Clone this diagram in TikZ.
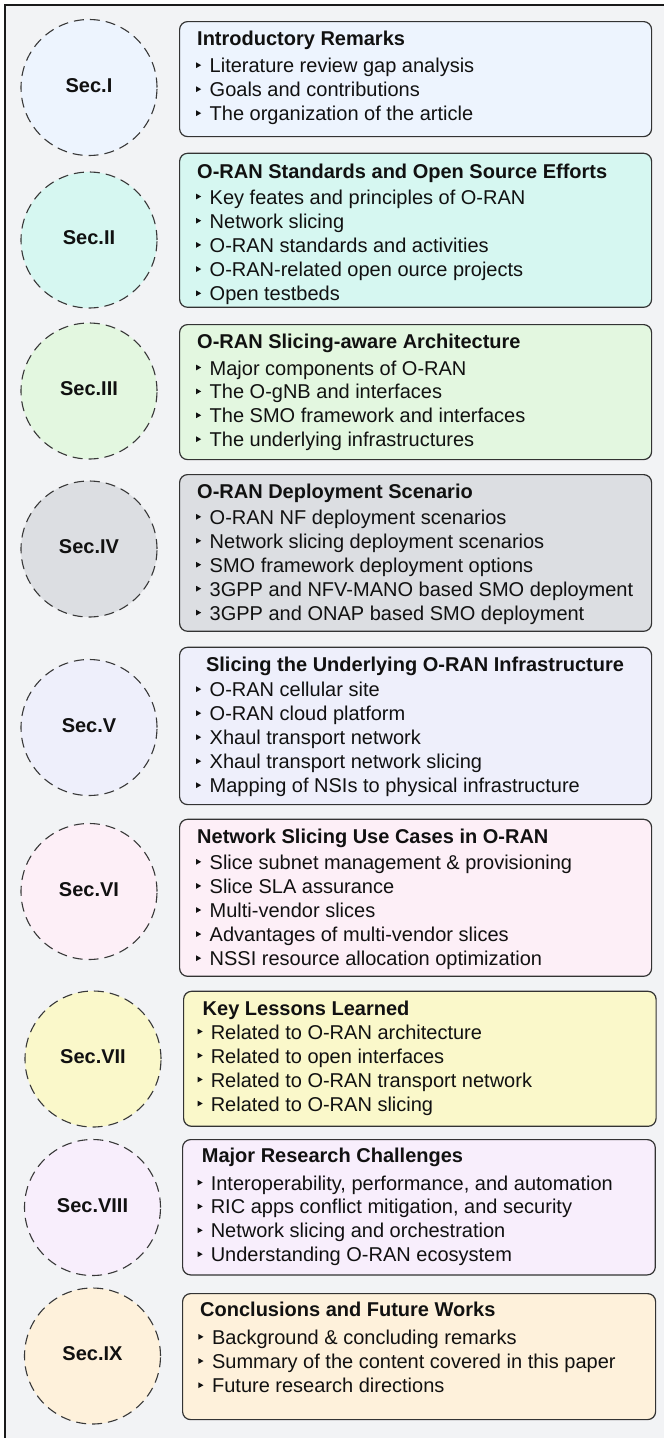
\documentclass[tikz,border=0pt]{standalone}
\usepackage{fontspec}
\setmainfont{Liberation Sans}
\definecolor{bgc}{HTML}{F2F3F5}
\definecolor{framec}{HTML}{1A1A1A}
\definecolor{boxline}{HTML}{333333}
\definecolor{circline}{HTML}{383838}
\definecolor{txt}{HTML}{111111}
\definecolor{cI}{HTML}{EDF4FE}
\definecolor{cII}{HTML}{D6F7F1}
\definecolor{cIII}{HTML}{E3F7E0}
\definecolor{cIV}{HTML}{DCDEE2}
\definecolor{cV}{HTML}{EEEFFB}
\definecolor{cVI}{HTML}{FDEFF7}
\definecolor{cVII}{HTML}{FAF8CA}
\definecolor{cVIII}{HTML}{F8EEFC}
\definecolor{cIX}{HTML}{FEF1DB}
\tikzset{
  secbox/.style={draw=boxline, line width=1.2pt, rounded corners=8pt, anchor=north west, inner sep=0pt},
  seccirc/.style={draw=circline, line width=1.1pt, dash pattern=on 10pt off 6pt, circle, minimum size=136pt, inner sep=0pt},
  seclabel/.style={font=\fontsize{20}{24}\selectfont\bfseries, inner sep=0pt, text=txt},
  titletext/.style={font=\fontsize{20}{24}\selectfont\bfseries, anchor=base west, inner sep=0pt, text=txt},
  itemtext/.style={font=\fontsize{20}{24}\selectfont, anchor=base west, inner sep=0pt, text=txt},
}
\newcommand\secitems[6]{%
  \foreach \t [count=\i] in {#6} {%
    \pgfmathsetmacro\bl{#4+#5*(\i-1)}%
    \node[itemtext] (#1-\i) at (#3,\bl) {\t};
    \fill[txt] (#2,\bl-4.6) -- ++(5.2,-2.9) -- ++(-5.2,-2.9) -- cycle;
  }%
}
\newcommand\secbox[7]{% id, left, top, right, bottom, colour
  \node[secbox, fill=#6, minimum width={#4-#2}, minimum height={#5-#3}] (#1) at (#2,#3) {};
}
\begin{document}
\begin{tikzpicture}[x=1pt,y=-1pt]
\useasboundingbox (0,0) rectangle (664,1438);
\fill[white] (0,0) rectangle (664,1438);
\fill[bgc] (4.5,4.5) rectangle (664,1438);
\draw[framec, line width=2pt] (4.5,1438) -- (4.5,4.5) -- (664,4.5);

% Sec I
\node[seccirc, fill=cI] (circI) at (89,87.5) {};
\node[seclabel] (labI) at (89,86) {Sec.I};
\secbox{boxI}{179}{21}{651}{136}{cI}{}
\node[titletext] (tI) at (197,45.7) {Introductory Remarks};
\secitems{iI}{196}{209.5}{72.7}{24}{Literature review gap analysis, Goals and contributions, The organization of the article}

% Sec II
\node[seccirc, fill=cII] (circII) at (89,240) {};
\node[seclabel] (labII) at (89,238) {Sec.II};
\secbox{boxII}{179}{152.7}{651}{306.7}{cII}{}
\node[titletext] (tII) at (197,178.3) {O-RAN Standards and Open Source Efforts};
\secitems{iII}{196}{209.5}{204}{24.2}{Key feates and principles of O-RAN, Network slicing, O-RAN standards and activities, O-RAN-related open ource projects, Open testbeds}

% Sec III
\node[seccirc, fill=cIII] (circIII) at (89,391) {};
\node[seclabel] (labIII) at (89,389) {Sec.III};
\secbox{boxIII}{179}{324}{651}{459}{cIII}{}
\node[titletext] (tIII) at (197,348.3) {O-RAN Slicing-aware Architecture};
\secitems{iIII}{196}{209.5}{375}{23.9}{Major components of O-RAN, The O-gNB and interfaces, The SMO framework and interfaces, The underlying infrastructures}

% Sec IV
\node[seccirc, fill=cIV] (circIV) at (89,549) {};
\node[seclabel] (labIV) at (89,547) {Sec.IV};
\secbox{boxIV}{179}{474}{651}{630.7}{cIV}{}
\node[titletext] (tIV) at (197,498.3) {O-RAN Deployment Scenario};
\secitems{iIV}{196}{209.5}{524.3}{23.95}{O-RAN NF deployment scenarios, Network slicing deployment scenarios, SMO framework deployment options, 3GPP and NFV-MANO based SMO deployment, 3GPP and ONAP based SMO deployment}

% Sec V
\node[seccirc, fill=cV] (circV) at (89,727.5) {};
\node[seclabel] (labV) at (89,725.5) {Sec.V};
\secbox{boxV}{179}{646.7}{651}{804}{cV}{}
\node[titletext, anchor=base] (tV) at (415,671.7) {Slicing the Underlying O-RAN Infrastructure};
\secitems{iV}{196}{209.5}{696.7}{24}{O-RAN cellular site, O-RAN cloud platform, Xhaul transport network, Xhaul transport network slicing, Mapping of NSIs to physical infrastructure}

% Sec VI
\node[seccirc, fill=cVI] (circVI) at (89,891.5) {};
\node[seclabel] (labVI) at (89,889.5) {Sec.VI};
\secbox{boxVI}{179}{818.7}{651}{975.7}{cVI}{}
\node[titletext] (tVI) at (197,843.3) {Network Slicing Use Cases in O-RAN};
\secitems{iVI}{196}{209.5}{869.3}{24.1}{Slice subnet management \& provisioning, Slice SLA assurance, Multi-vendor slices, Advantages of multi-vendor slices, NSSI resource allocation optimization}

% Sec VII
\node[seccirc, fill=cVII] (circVII) at (93,1059) {};
\node[seclabel] (labVII) at (93,1057) {Sec.VII};
\secbox{boxVII}{183}{990.7}{655.5}{1125.7}{cVII}{}
\node[titletext] (tVII) at (202.5,1015.7) {Key Lessons Learned};
\secitems{iVII}{197.5}{210.6}{1039}{24}{Related to O-RAN architecture, Related to open interfaces, Related to O-RAN transport network, Related to O-RAN slicing}

% Sec VIII
\node[seccirc, fill=cVIII] (circVIII) at (92.5,1207.5) {};
\node[seclabel] (labVIII) at (92.5,1205.5) {Sec.VIII};
\secbox{boxVIII}{182}{1139}{654.7}{1274.3}{cVIII}{}
\node[titletext] (tVIII) at (201.7,1162.7) {Major Research Challenges};
\secitems{iVIII}{197.5}{210.6}{1190}{23.9}{{Interoperability, performance, and automation}, {RIC apps conflict mitigation, and security}, Network slicing and orchestration, Understanding O-RAN ecosystem}

% Sec IX
\node[seccirc, fill=cIX] (circIX) at (92.5,1356) {};
\node[seclabel] (labIX) at (92.5,1354) {Sec.IX};
\secbox{boxIX}{182}{1293}{655}{1419}{cIX}{}
\node[titletext] (tIX) at (200,1316.7) {Conclusions and Future Works};
\secitems{iIX}{198.3}{211.9}{1344.3}{24.2}{Background \& concluding remarks, Summary of the content covered in this paper, Future research directions}
\end{tikzpicture}
\end{document}
